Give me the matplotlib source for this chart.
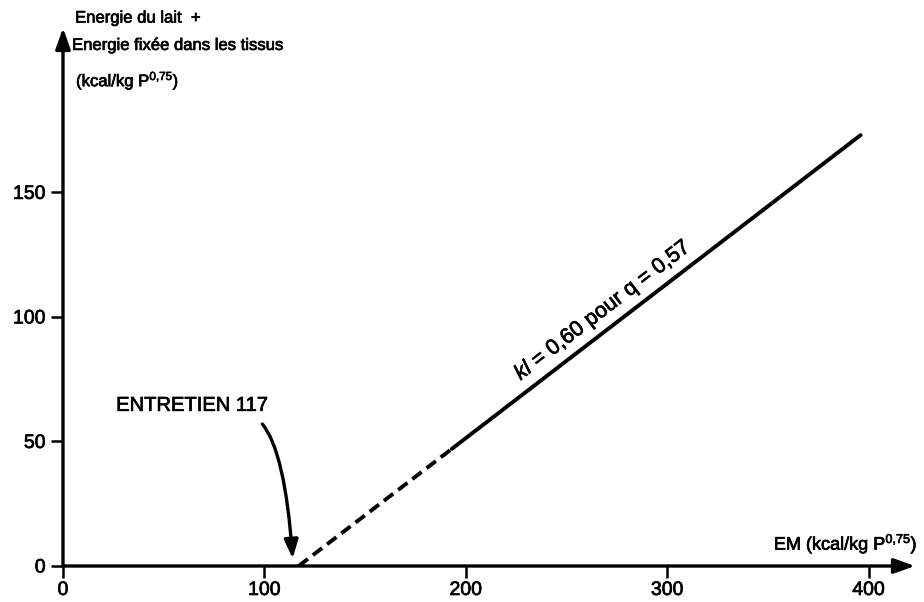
import numpy as np
import matplotlib.pyplot as plt
import matplotlib.patheffects as pe

plt.rcParams['font.family'] = ['Liberation Sans', 'DejaVu Sans']
plt.rcParams['mathtext.fontset'] = 'custom'
plt.rcParams['mathtext.rm'] = 'Liberation Sans'
plt.rcParams['mathtext.it'] = 'Liberation Sans:italic'

# lactation energy response: maintenance point, then the kl line
em_dashed = [117, 193]
energy_dashed = [0, 47]
em_solid = [193, 396]
energy_solid = [47, 173]
maintenance_em = 117

x_ticks = [0, 100, 200, 300, 400]
y_ticks = [0, 50, 100, 150]

# a light stroke makes the lettering heavier, like the printed figure
heavy = [pe.withStroke(linewidth=0.5, foreground='black')]

fig = plt.figure(figsize=(9.24, 6.02), dpi=100)
ax = fig.add_axes([63 / 924, 36 / 602, 852 / 924, 538 / 602])
ax.set_xlim(0, 423)
ax.set_ylim(0, 216)

for s in ax.spines.values():
    s.set_visible(False)

# axes drawn as arrows
arrow = dict(arrowstyle='-|>,head_length=0.9,head_width=0.32', lw=2.4,
             color='black', shrinkA=0, shrinkB=0, mutation_scale=14)
ax.annotate('', xy=(423, 0), xytext=(0, 0), arrowprops=arrow,
            annotation_clip=False)
ax.annotate('', xy=(0, 216), xytext=(0, 0), arrowprops=arrow,
            annotation_clip=False)

ax.set_xticks(x_ticks)
ax.set_yticks(y_ticks)
ax.tick_params(axis='both', direction='out', length=8.5, width=1.8,
               labelsize=14, color='black')
ax.tick_params(axis='x', pad=3)
ax.tick_params(axis='y', pad=4)
for lab in ax.get_xticklabels() + ax.get_yticklabels():
    lab.set_path_effects(heavy)

# the response line
dashed, = ax.plot(em_dashed, energy_dashed, color='black', lw=2.8,
                  solid_capstyle='butt')
dashed.set_dashes((3.0, 1.6))
ax.plot(em_solid, energy_solid, color='black', lw=2.8, solid_capstyle='round')

slope = (energy_solid[1] - energy_solid[0]) / (em_solid[1] - em_solid[0])
angle = np.degrees(np.arctan(slope))
tx = 268
ty = energy_solid[0] + slope * (tx - em_solid[0]) + 9
ax.text(tx, ty, '$kl$ = 0,60 pour q = 0,57', fontsize=15.5, rotation=angle,
        rotation_mode='anchor', transform_rotates_text=True,
        ha='center', va='center', path_effects=heavy)

# maintenance annotation
ax.text(64, 64.5, 'ENTRETIEN 117', fontsize=14.5, ha='center', va='center',
        path_effects=heavy)
ax.annotate('', xy=(maintenance_em - 3, 3), xytext=(99, 57),
            arrowprops=dict(arrowstyle='-|>,head_length=0.8,head_width=0.3',
                            lw=2.4, color='black', mutation_scale=14,
                            shrinkA=0, shrinkB=0,
                            connectionstyle='angle3,angleA=-51,angleB=94'))

# axis titles
ax.text(424, 9, 'EM (kcal/kg P$^{\\mathrm{0{,}75}}$)', fontsize=13,
        ha='right', va='center', clip_on=False, path_effects=heavy)
ax.text(6, 220, 'Energie du lait  +', fontsize=12, ha='left', va='center',
        clip_on=False, path_effects=heavy)
ax.text(4.5, 209, 'Energie fixée dans les tissus', fontsize=12, ha='left',
        va='center', clip_on=False, path_effects=heavy)
ax.text(6.5, 195, '(kcal/kg P$^{\\mathrm{0{,}75}}$)', fontsize=12, ha='left',
        va='center', clip_on=False, path_effects=heavy)

fig.savefig('out.png', dpi=100)
